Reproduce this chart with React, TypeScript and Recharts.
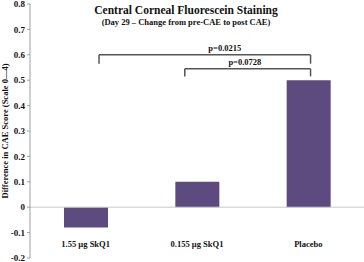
import React from 'react';
import {
  ComposedChart,
  Bar,
  XAxis,
  YAxis,
  ReferenceLine,
  ReferenceDot,
} from 'recharts';

// Category labels and CAE score differences
const groups = ['1.55 µg SkQ1', '0.155 µg SkQ1', 'Placebo'];
const groupPos = [0.5, 1.5, 2.5];
const scoreDiff = [-0.08, 0.1, 0.5];
const yTicks = [-0.2, -0.1, 0, 0.1, 0.2, 0.3, 0.4, 0.5, 0.6, 0.7, 0.8];

// significance brackets
const bracketFrom = [0.62, 1.39];
const bracketTo = [2.52, 2.52];
const bracketLevel = [0.6, 0.545];
const bracketLeg = [0.565, 0.515];
const pLabels = ['p=0.0215', 'p=0.0728'];
const pLabelX = [1.75, 1.93];

const FONT = '"Liberation Serif", "Times New Roman", serif';
const PURPLE = '#5d4a7e';

const data = groups.map((g, i) => ({ group: g, pos: groupPos[i], diff: scoreDiff[i] }));

const TextLabel = ({ viewBox, value }: any) => {
  const cx = viewBox.x + (viewBox.width || 0) / 2;
  const cy = viewBox.y + (viewBox.height || 0) / 2;
  return (
    <text x={cx} y={cy} dy={3} textAnchor="middle" fontFamily={FONT} fontWeight="bold" fontSize={8.5} fill="#111">
      {value}
    </text>
  );
};

const App: React.FC = () => {
  return (
    <div style={{ position: 'absolute', left: 0, top: 0, width: 364, height: 262, background: '#fff' }}>
      <div
        style={{
          position: 'absolute',
          left: 8,
          width: 356,
          top: 4,
          textAlign: 'center',
          fontFamily: FONT,
          fontWeight: 'bold',
          fontSize: 11.5,
          color: '#111',
          lineHeight: '13px',
          zIndex: 1,
        }}
      >
        Central Corneal Fluorescein Staining
        <div style={{ fontSize: 8.5, lineHeight: '10px' }}>
          (Day 29 – Change from pre-CAE to post CAE)
        </div>
      </div>
      <ComposedChart width={364} height={262} data={data} margin={{ top: 4, right: 0, bottom: 4, left: 0 }}>
        <XAxis dataKey="pos" type="number" domain={[0, 3]} allowDataOverflow hide />
        <YAxis
          width={30}
          domain={[-0.2, 0.8]}
          ticks={yTicks}
          interval={0}
          allowDataOverflow
          tickFormatter={(v: number) => (v === 0 ? '0' : v.toFixed(1))}
          axisLine={{ stroke: '#a0a0a0' }}
          tickLine={{ stroke: '#a0a0a0' }}
          tickSize={3}
          tick={{ fontFamily: FONT, fontWeight: 'bold', fontSize: 9, fill: '#111' }}
          label={{
            value: 'Difference in CAE Score (Scale 0—4)',
            angle: -90,
            position: 'insideLeft',
            dx: 0,
            style: { fontFamily: FONT, fontWeight: 'bold', fontSize: 8.5, fill: '#111', textAnchor: 'middle' },
          }}
        />
        <ReferenceLine y={0} stroke="#c8c8c8" strokeWidth={1} />
        <Bar dataKey="diff" fill={PURPLE} barSize={44} isAnimationActive={false} />
        {groups.map((g, i) => (
          <ReferenceDot
            key={'g' + i}
            x={groupPos[i]}
            y={-0.143}
            r={0}
            fill="none"
            stroke="none"
            ifOverflow="visible"
            label={<TextLabel value={g} />}
          />
        ))}
        {bracketLevel.map((lv, i) => (
          <ReferenceLine
            key={'h' + i}
            segment={[{ x: bracketFrom[i], y: lv }, { x: bracketTo[i], y: lv }]}
            stroke="#555"
            strokeWidth={1.5}
            ifOverflow="visible"
          />
        ))}
        {bracketLevel.map((lv, i) => (
          <ReferenceLine
            key={'l' + i}
            segment={[{ x: bracketFrom[i], y: lv }, { x: bracketFrom[i], y: bracketLeg[i] }]}
            stroke="#555"
            strokeWidth={1.5}
            ifOverflow="visible"
          />
        ))}
        {bracketLevel.map((lv, i) => (
          <ReferenceLine
            key={'r' + i}
            segment={[{ x: bracketTo[i], y: lv }, { x: bracketTo[i], y: bracketLeg[i] }]}
            stroke="#555"
            strokeWidth={1.5}
            ifOverflow="visible"
          />
        ))}
        {bracketLevel.map((lv, i) => (
          <ReferenceDot
            key={'p' + i}
            x={pLabelX[i]}
            y={lv + 0.025}
            r={0}
            fill="none"
            stroke="none"
            ifOverflow="visible"
            label={<TextLabel value={pLabels[i]} />}
          />
        ))}
      </ComposedChart>
    </div>
  );
};

export default App;
